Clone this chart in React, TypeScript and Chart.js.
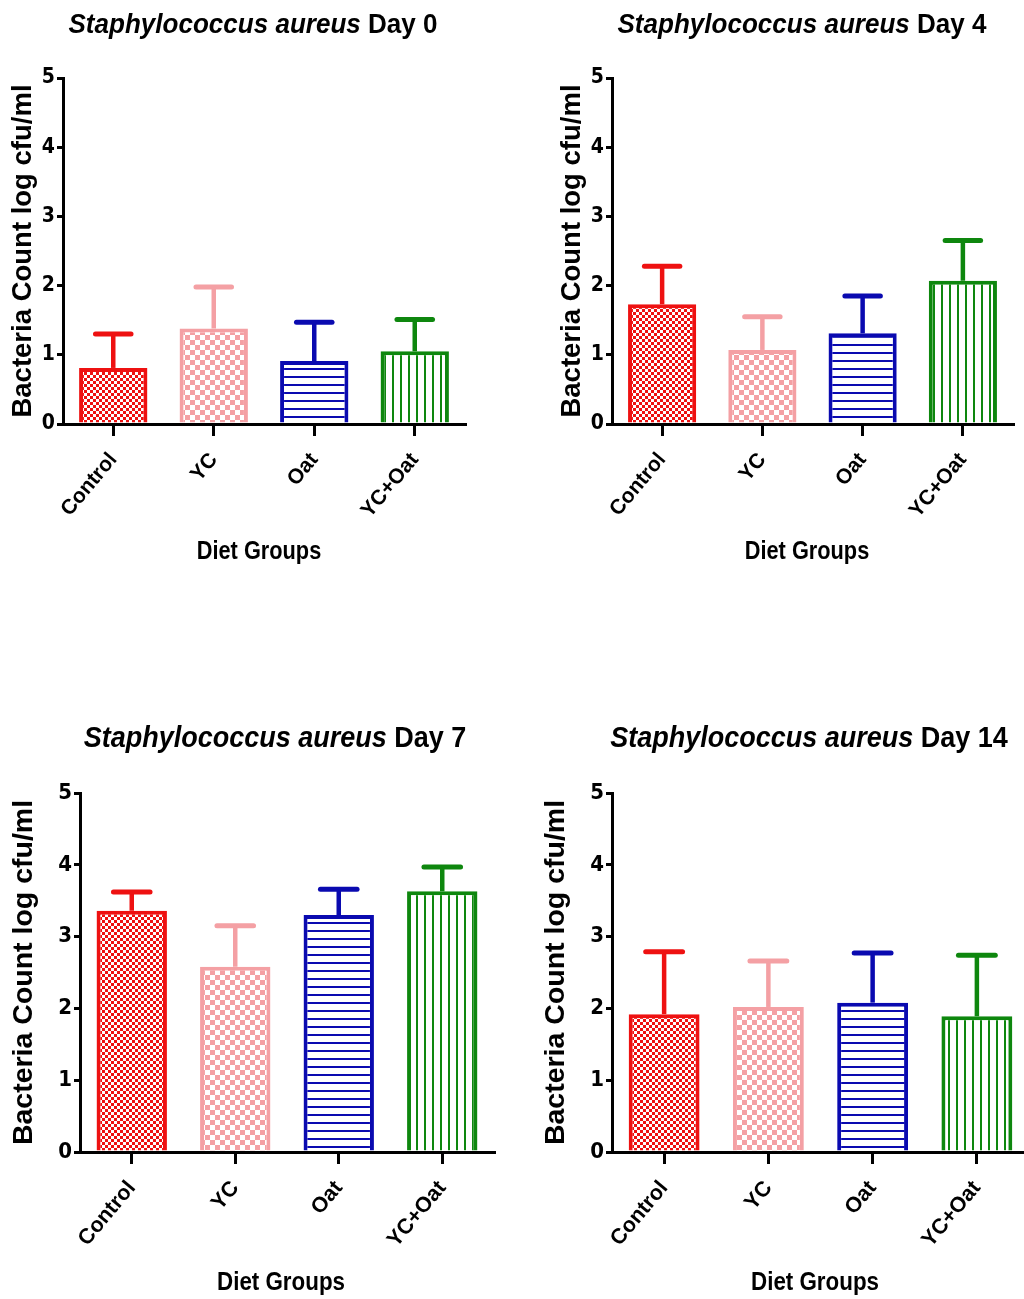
import React, { useEffect, useRef } from "react";
import { Chart, registerables } from "chart.js";

Chart.register(...registerables);

// ---------- data ----------
const groups = ["Control", "YC", "Oat", "YC+Oat"];
const speciesName = "Staphylococcus aureus";
const dayNames = ["Day 0", "Day 4", "Day 7", "Day 14"];
const day0Means = [0.81, 1.38, 0.91, 1.05];
const day0Errors = [0.49, 0.6, 0.56, 0.46];
const day4Means = [1.73, 1.07, 1.31, 2.07];
const day4Errors = [0.55, 0.48, 0.54, 0.58];
const day7Means = [3.36, 2.58, 3.3, 3.63];
const day7Errors = [0.26, 0.57, 0.36, 0.34];
const day14Means = [1.92, 2.02, 2.08, 1.89];
const day14Errors = [0.87, 0.64, 0.69, 0.85];
const yMin = 0;
const yMax = 5;
const yStep = 1;
const yAxisTitle = "Bacteria Count log cfu/ml";
const xAxisTitle = "Diet Groups";

// ---------- styles ----------
const CONDENSED = "'DejaVu Sans Condensed', 'Liberation Sans Narrow', sans-serif";
const SANS = "'Liberation Sans', Arial, sans-serif";
const barColors = ["#EE1111", "#F4A0A4", "#0A0AB0", "#0E870E"];

function makePatterns(): (CanvasPattern | string)[] {
  const make = (w: number, h: number, draw: (c: CanvasRenderingContext2D) => void) => {
    const cv = document.createElement("canvas");
    cv.width = w;
    cv.height = h;
    const c = cv.getContext("2d")!;
    c.fillStyle = "#ffffff";
    c.fillRect(0, 0, w, h);
    draw(c);
    const ctx = document.createElement("canvas").getContext("2d")!;
    return ctx.createPattern(cv, "repeat") as CanvasPattern;
  };
  const red = make(6, 6, (c) => {
    c.fillStyle = barColors[0];
    c.fillRect(0, 0, 3, 3);
    c.fillRect(3, 3, 3, 3);
  });
  const pink = make(10, 10, (c) => {
    c.fillStyle = barColors[1];
    c.fillRect(0, 0, 5, 5);
    c.fillRect(5, 5, 5, 5);
  });
  const blue = make(8, 8, (c) => {
    c.fillStyle = barColors[2];
    c.fillRect(0, 0, 8, 2);
  });
  const green = make(8, 8, (c) => {
    c.fillStyle = barColors[3];
    c.fillRect(0, 0, 2, 8);
  });
  return [red, pink, blue, green];
}

type PanelLayout = {
  left: number;
  top: number;
  width: number;
  height: number;
  axisX: number;
  chartTop: number;
  chartBottom: number;
  chartRight: number;
  titleCX: number;
  titleBaseline: number;
  titleSize: number;
  titleScale: number;
  xTitleCX: number;
  xTitleBaseline: number;
  xTitleSize: number;
  xTitleScale: number;
  yTitleSize: number;
  yTitlePad: number;
  tickSize: number;
  xTickSize: number;
  xTickPad: number;
};

const errorBarPlugin = {
  id: "errorBars",
  afterDatasetsDraw(chart: any) {
    const ctx = chart.ctx as CanvasRenderingContext2D;
    const ds = chart.data.datasets[0];
    const meta = chart.getDatasetMeta(0);
    const yScale = chart.scales.y;
    meta.data.forEach((bar: any, i: number) => {
      const v = ds.data[i] as number;
      const e = ds.errors[i] as number;
      const top = yScale.getPixelForValue(v + e);
      const half = bar.width * 0.26;
      ctx.save();
      ctx.strokeStyle = barColors[i];
      ctx.lineWidth = 4.5;
      ctx.lineCap = "butt";
      ctx.beginPath();
      ctx.moveTo(bar.x, bar.y);
      ctx.lineTo(bar.x, top);
      ctx.stroke();
      ctx.lineWidth = 5;
      ctx.lineCap = "round";
      ctx.beginPath();
      ctx.moveTo(bar.x - half, top);
      ctx.lineTo(bar.x + half, top);
      ctx.stroke();
      ctx.restore();
    });
  },
};

function drawScaledText(
  ctx: CanvasRenderingContext2D,
  parts: { text: string; font: string }[],
  cx: number,
  baseline: number,
  sx: number
) {
  ctx.save();
  ctx.textBaseline = "alphabetic";
  ctx.textAlign = "left";
  ctx.fillStyle = "#000";
  const widths = parts.map((p) => {
    ctx.font = p.font;
    return ctx.measureText(p.text).width;
  });
  const total = widths.reduce((a, b) => a + b, 0) * sx;
  ctx.translate(cx - total / 2, baseline);
  ctx.scale(sx, 1);
  let x = 0;
  parts.forEach((p, i) => {
    ctx.font = p.font;
    ctx.fillText(p.text, x, 0);
    x += widths[i];
  });
  ctx.restore();
}

const textsPlugin = {
  id: "panelTexts",
  afterDraw(chart: any, _args: any, opts: any) {
    const ctx = chart.ctx as CanvasRenderingContext2D;
    drawScaledText(
      ctx,
      [
        { text: opts.italic + " ", font: `italic bold ${opts.size}px ${SANS}` },
        { text: opts.normal, font: `bold ${opts.size}px ${SANS}` },
      ],
      opts.cx,
      opts.y,
      opts.scale
    );
    drawScaledText(
      ctx,
      [{ text: opts.xTitle, font: `bold ${opts.xSize}px ${SANS}` }],
      opts.xcx,
      opts.xy,
      opts.xScale
    );
  },
};

function Panel({ day, means, errors, L }: { day: string; means: number[]; errors: number[]; L: PanelLayout }) {
  const ref = useRef<HTMLCanvasElement>(null);
  useEffect(() => {
    const canvas = ref.current!;
    const patterns = makePatterns();
    const chart = new Chart(canvas, {
      type: "bar",
      data: {
        labels: groups,
        datasets: [
          {
            data: means,
            errors: errors,
            backgroundColor: patterns,
            borderColor: barColors,
            borderWidth: 4,
            barPercentage: 0.68,
            categoryPercentage: 1,
          } as any,
        ],
      },
      options: {
        animation: false,
        responsive: false,
        devicePixelRatio: 1,
        layout: {
          padding: { top: L.chartTop, left: 0, right: L.width - L.chartRight, bottom: 0 },
        },
        plugins: {
          legend: { display: false },
          tooltip: { enabled: false },
          title: { display: false },
          panelTexts: {
            italic: speciesName,
            normal: day,
            cx: L.titleCX,
            y: L.titleBaseline,
            size: L.titleSize,
            scale: L.titleScale,
            xTitle: xAxisTitle,
            xcx: L.xTitleCX,
            xy: L.xTitleBaseline,
            xSize: L.xTitleSize,
            xScale: L.xTitleScale,
          },
        } as any,
        scales: {
          x: {
            type: "category",
            offset: true,
            afterFit: (s: any) => {
              s.height = L.height - L.chartBottom;
            },
            border: { display: true, color: "#000", width: 3 },
            grid: {
              display: true,
              offset: false,
              drawOnChartArea: false,
              drawTicks: true,
              tickLength: 12,
              lineWidth: 3,
              color: "#000",
            },
            ticks: {
              color: "#000",
              maxRotation: 50,
              minRotation: 50,
              autoSkip: false,
              padding: L.xTickPad,
              font: { family: SANS, size: L.xTickSize, weight: "bold" },
            },
            title: { display: false },
          },
          y: {
            min: yMin,
            max: yMax,
            afterFit: (s: any) => {
              s.width = L.axisX;
            },
            border: { display: true, color: "#000", width: 3 },
            grid: {
              display: true,
              drawOnChartArea: false,
              drawTicks: true,
              tickLength: 6,
              lineWidth: 3,
              color: "#000",
            },
            ticks: {
              stepSize: yStep,
              color: "#000",
              padding: 2,
              font: { family: CONDENSED, size: L.tickSize, weight: "bold" },
            },
            title: {
              display: true,
              text: yAxisTitle,
              color: "#000",
              padding: { top: L.yTitlePad, bottom: 0 },
              font: { family: SANS, size: L.yTitleSize, weight: "bold" },
            },
          },
        },
      } as any,
      plugins: [errorBarPlugin, textsPlugin],
    });
    return () => chart.destroy();
  }, [day, means, errors, L]);
  return (
    <canvas
      ref={ref}
      width={L.width}
      height={L.height}
      style={{ position: "absolute", left: L.left, top: L.top, width: L.width, height: L.height }}
    />
  );
}

const layouts: PanelLayout[] = [
  { left: 0, top: 0, width: 512, height: 570, axisX: 63, chartTop: 78, chartBottom: 424, chartRight: 465, titleCX: 253, titleBaseline: 33, titleSize: 28, titleScale: 0.93, xTitleCX: 259, xTitleBaseline: 559, xTitleSize: 25, xTitleScale: 0.87, yTitleSize: 27.5, yTitlePad: 7, tickSize: 21, xTickSize: 21, xTickPad: 12 },
  { left: 549, top: 0, width: 475, height: 570, axisX: 63, chartTop: 78, chartBottom: 424, chartRight: 464, titleCX: 253, titleBaseline: 33, titleSize: 28, titleScale: 0.93, xTitleCX: 258, xTitleBaseline: 559, xTitleSize: 25, xTitleScale: 0.87, yTitleSize: 27.5, yTitlePad: 7, tickSize: 21, xTickSize: 21, xTickPad: 12 },
  { left: 0, top: 650, width: 512, height: 649, axisX: 80, chartTop: 143, chartBottom: 502, chartRight: 494, titleCX: 275, titleBaseline: 97, titleSize: 30, titleScale: 0.9, xTitleCX: 281, xTitleBaseline: 640, xTitleSize: 26, xTitleScale: 0.86, yTitleSize: 28.5, yTitlePad: 7, tickSize: 22, xTickSize: 21.5, xTickPad: 12 },
  { left: 532, top: 650, width: 500, height: 649, axisX: 80, chartTop: 143, chartBottom: 502, chartRight: 497, titleCX: 277, titleBaseline: 97, titleSize: 30, titleScale: 0.9, xTitleCX: 283, xTitleBaseline: 640, xTitleSize: 26, xTitleScale: 0.86, yTitleSize: 28.5, yTitlePad: 7, tickSize: 22, xTickSize: 21.5, xTickPad: 12 },
];

const allMeans = [day0Means, day4Means, day7Means, day14Means];
const allErrors = [day0Errors, day4Errors, day7Errors, day14Errors];

export default function App() {
  return (
    <div
      style={{
        position: "absolute",
        left: 0,
        top: 0,
        width: 1024,
        height: 1299,
        overflow: "hidden",
        background: "#ffffff",
      }}
    >
      {dayNames.map((d, i) => (
        <Panel key={d} day={d} means={allMeans[i]} errors={allErrors[i]} L={layouts[i]} />
      ))}
    </div>
  );
}
